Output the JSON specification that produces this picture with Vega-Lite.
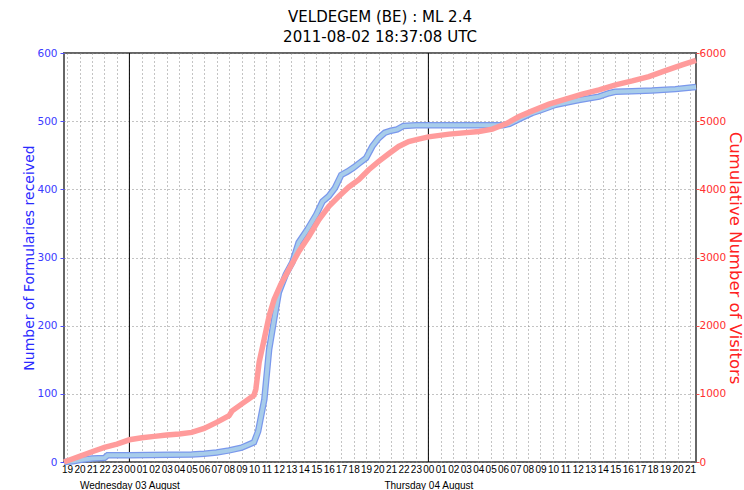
{
  "$schema": "https://vega.github.io/schema/vega-lite/v6.json",
  "width": 744,
  "height": 490,
  "autosize": {"type": "fit", "contains": "padding"},
  "padding": {"left": 22, "top": 10, "right": 1, "bottom": 0},
  "background": "white",
  "config": {
    "view": {"stroke": "#666666", "strokeWidth": 2},
    "font": "DejaVu Sans",
    "axis": {"labelFont": "DejaVu Sans", "titleFont": "DejaVu Sans", "titleFontWeight": "normal"}
  },
  "title": {
    "text": "VELDEGEM (BE) : ML 2.4",
    "subtitle": "2011-08-02 18:37:08 UTC",
    "fontSize": 15,
    "subtitleFontSize": 15,
    "fontWeight": "normal",
    "color": "black",
    "subtitleColor": "black",
    "font": "DejaVu Sans",
    "subtitleFont": "DejaVu Sans",
    "anchor": "middle",
    "frame": "group",
    "offset": 3,
    "subtitlePadding": 5
  },
  "datasets": {
    "midnights": [
      {"t": "2011-08-03T00:00:00"},
      {"t": "2011-08-04T00:00:00"}
    ],
    "forms": [
      {"t": "2011-08-02T18:45:00", "n": 0},
      {"t": "2011-08-02T19:30:00", "n": 1},
      {"t": "2011-08-02T20:00:00", "n": 3},
      {"t": "2011-08-02T21:00:00", "n": 5},
      {"t": "2011-08-02T22:00:00", "n": 6},
      {"t": "2011-08-02T22:15:00", "n": 10},
      {"t": "2011-08-02T23:00:00", "n": 10},
      {"t": "2011-08-03T00:00:00", "n": 10},
      {"t": "2011-08-03T05:00:00", "n": 11},
      {"t": "2011-08-03T06:00:00", "n": 12},
      {"t": "2011-08-03T07:00:00", "n": 14},
      {"t": "2011-08-03T08:00:00", "n": 17},
      {"t": "2011-08-03T09:00:00", "n": 21},
      {"t": "2011-08-03T09:30:00", "n": 25},
      {"t": "2011-08-03T10:00:00", "n": 29},
      {"t": "2011-08-03T10:20:00", "n": 45},
      {"t": "2011-08-03T10:50:00", "n": 92},
      {"t": "2011-08-03T11:13:00", "n": 165},
      {"t": "2011-08-03T11:37:00", "n": 209},
      {"t": "2011-08-03T12:00:00", "n": 249},
      {"t": "2011-08-03T12:33:00", "n": 275},
      {"t": "2011-08-03T13:05:00", "n": 293},
      {"t": "2011-08-03T13:35:00", "n": 322},
      {"t": "2011-08-03T14:17:00", "n": 341},
      {"t": "2011-08-03T15:00:00", "n": 363},
      {"t": "2011-08-03T15:30:00", "n": 382},
      {"t": "2011-08-03T16:00:00", "n": 390},
      {"t": "2011-08-03T16:30:00", "n": 402},
      {"t": "2011-08-03T17:00:00", "n": 421},
      {"t": "2011-08-03T17:30:00", "n": 426},
      {"t": "2011-08-03T18:00:00", "n": 432},
      {"t": "2011-08-03T18:30:00", "n": 439},
      {"t": "2011-08-03T19:00:00", "n": 446},
      {"t": "2011-08-03T19:30:00", "n": 463},
      {"t": "2011-08-03T20:00:00", "n": 475},
      {"t": "2011-08-03T20:30:00", "n": 483},
      {"t": "2011-08-03T21:00:00", "n": 486},
      {"t": "2011-08-03T21:30:00", "n": 488},
      {"t": "2011-08-03T22:00:00", "n": 493},
      {"t": "2011-08-03T23:00:00", "n": 494},
      {"t": "2011-08-04T00:00:00", "n": 494},
      {"t": "2011-08-04T06:00:00", "n": 494},
      {"t": "2011-08-04T06:30:00", "n": 496},
      {"t": "2011-08-04T07:30:00", "n": 505},
      {"t": "2011-08-04T08:20:00", "n": 512},
      {"t": "2011-08-04T09:00:00", "n": 516},
      {"t": "2011-08-04T10:13:00", "n": 524},
      {"t": "2011-08-04T11:00:00", "n": 527},
      {"t": "2011-08-04T12:05:00", "n": 531},
      {"t": "2011-08-04T13:42:00", "n": 536},
      {"t": "2011-08-04T14:30:00", "n": 541},
      {"t": "2011-08-04T15:00:00", "n": 543},
      {"t": "2011-08-04T16:20:00", "n": 544},
      {"t": "2011-08-04T17:57:00", "n": 545},
      {"t": "2011-08-04T19:50:00", "n": 547},
      {"t": "2011-08-04T21:29:00", "n": 550}
    ],
    "visitors": [
      {"t": "2011-08-02T18:45:00", "v": 0},
      {"t": "2011-08-02T20:00:00", "v": 83},
      {"t": "2011-08-02T21:00:00", "v": 151},
      {"t": "2011-08-02T22:00:00", "v": 215},
      {"t": "2011-08-02T23:00:00", "v": 263},
      {"t": "2011-08-03T00:00:00", "v": 326},
      {"t": "2011-08-03T01:00:00", "v": 356},
      {"t": "2011-08-03T02:00:00", "v": 376},
      {"t": "2011-08-03T03:00:00", "v": 395},
      {"t": "2011-08-03T04:00:00", "v": 410},
      {"t": "2011-08-03T05:00:00", "v": 434},
      {"t": "2011-08-03T06:00:00", "v": 493},
      {"t": "2011-08-03T07:00:00", "v": 581},
      {"t": "2011-08-03T08:00:00", "v": 678},
      {"t": "2011-08-03T08:15:00", "v": 751},
      {"t": "2011-08-03T09:00:00", "v": 849},
      {"t": "2011-08-03T10:00:00", "v": 980},
      {"t": "2011-08-03T10:09:00", "v": 1068},
      {"t": "2011-08-03T10:25:00", "v": 1463},
      {"t": "2011-08-03T10:49:00", "v": 1800},
      {"t": "2011-08-03T11:13:00", "v": 2141},
      {"t": "2011-08-03T11:37:00", "v": 2385},
      {"t": "2011-08-03T12:09:00", "v": 2605},
      {"t": "2011-08-03T12:57:00", "v": 2873},
      {"t": "2011-08-03T13:37:00", "v": 3093},
      {"t": "2011-08-03T14:25:00", "v": 3312},
      {"t": "2011-08-03T15:13:00", "v": 3556},
      {"t": "2011-08-03T16:01:00", "v": 3751},
      {"t": "2011-08-03T16:49:00", "v": 3898},
      {"t": "2011-08-03T17:37:00", "v": 4035},
      {"t": "2011-08-03T18:25:00", "v": 4142},
      {"t": "2011-08-03T19:13:00", "v": 4288},
      {"t": "2011-08-03T20:01:00", "v": 4410},
      {"t": "2011-08-03T20:49:00", "v": 4522},
      {"t": "2011-08-03T21:37:00", "v": 4629},
      {"t": "2011-08-03T22:25:00", "v": 4702},
      {"t": "2011-08-03T23:13:00", "v": 4737},
      {"t": "2011-08-04T00:00:00", "v": 4770},
      {"t": "2011-08-04T01:40:00", "v": 4810},
      {"t": "2011-08-04T04:04:00", "v": 4849},
      {"t": "2011-08-04T05:08:00", "v": 4883},
      {"t": "2011-08-04T06:13:00", "v": 4961},
      {"t": "2011-08-04T07:17:00", "v": 5068},
      {"t": "2011-08-04T08:21:00", "v": 5151},
      {"t": "2011-08-04T09:41:00", "v": 5249},
      {"t": "2011-08-04T11:01:00", "v": 5322},
      {"t": "2011-08-04T12:21:00", "v": 5396},
      {"t": "2011-08-04T13:42:00", "v": 5459},
      {"t": "2011-08-04T15:02:00", "v": 5532},
      {"t": "2011-08-04T16:22:00", "v": 5590},
      {"t": "2011-08-04T17:42:00", "v": 5654},
      {"t": "2011-08-04T19:02:00", "v": 5742},
      {"t": "2011-08-04T20:22:00", "v": 5825},
      {"t": "2011-08-04T21:29:00", "v": 5892}
    ]
  },
  "encoding": {
    "x": {
      "field": "t",
      "type": "temporal",
      "scale": {"domain": [
        {"year": 2011, "month": 8, "date": 2, "hours": 18, "minutes": 45},
        {"year": 2011, "month": 8, "date": 4, "hours": 21, "minutes": 29}
      ]},
      "axis": {
        "tickCount": 60,
        "labelExpr": "hours(datum.value) == 0 ? [timeFormat(datum.value, '%H'), timeFormat(datum.value, '%A %d %B')] : timeFormat(datum.value, '%H')",
        "labelLineHeight": 16,
        "labelOverlap": false,
        "labelFlush": false,
        "grid": true,
        "gridDash": [1, 3],
        "gridColor": "#888888",
        "gridWidth": 1,
        "ticks": false,
        "domain": false,
        "labelFont": "Liberation Sans",
        "labelFontSize": 10,
        "labelColor": "black",
        "labelPadding": 2,
        "title": null
      }
    }
  },
  "layer": [
    {
      "data": {"name": "midnights"},
      "mark": {"type": "rule", "color": "black", "strokeWidth": 1},
      "encoding": {}
    },
    {
      "data": {"name": "forms"},
      "mark": {"type": "line", "color": "#7a98ec", "strokeWidth": 6.5},
      "encoding": {
        "y": {
          "field": "n",
          "type": "quantitative",
          "scale": {"domain": [0, 600]},
          "axis": {
            "values": [0, 100, 200, 300, 400, 500, 600],
            "grid": true,
            "gridDash": [1, 3],
            "gridColor": "#888888",
            "domain": false,
            "tickColor": "#5050ff",
            "tickSize": 4,
            "labelColor": "#3b3bff",
            "labelFontSize": 10.5,
            "labelPadding": 3,
            "title": "Number of Formularies received",
            "titleColor": "#2a2aff",
            "titleFontSize": 14,
            "titlePadding": 0
          }
        }
      }
    },
    {
      "data": {"name": "forms"},
      "mark": {"type": "line", "color": "#a8cdea", "strokeWidth": 4},
      "encoding": {
        "y": {"field": "n", "type": "quantitative", "scale": {"domain": [0, 600]}, "axis": null}
      }
    },
    {
      "data": {"name": "visitors"},
      "mark": {"type": "line", "color": "#ff9b9b", "strokeWidth": 5.5},
      "encoding": {
        "y": {
          "field": "v",
          "type": "quantitative",
          "scale": {"domain": [0, 6000]},
          "axis": {
            "orient": "right",
            "values": [0, 1000, 2000, 3000, 4000, 5000, 6000],
            "grid": false,
            "domain": false,
            "tickColor": "#ff5050",
            "tickSize": 3,
            "labelColor": "#ff3030",
            "labelFontSize": 10.5,
            "labelPadding": 0,
            "format": "d",
            "title": "Cumulative Number of Visitors",
            "titleColor": "#ff2020",
            "titleFontSize": 16.5,
            "titlePadding": 1
          }
        }
      }
    }
  ],
  "resolve": {"scale": {"y": "independent"}}
}
